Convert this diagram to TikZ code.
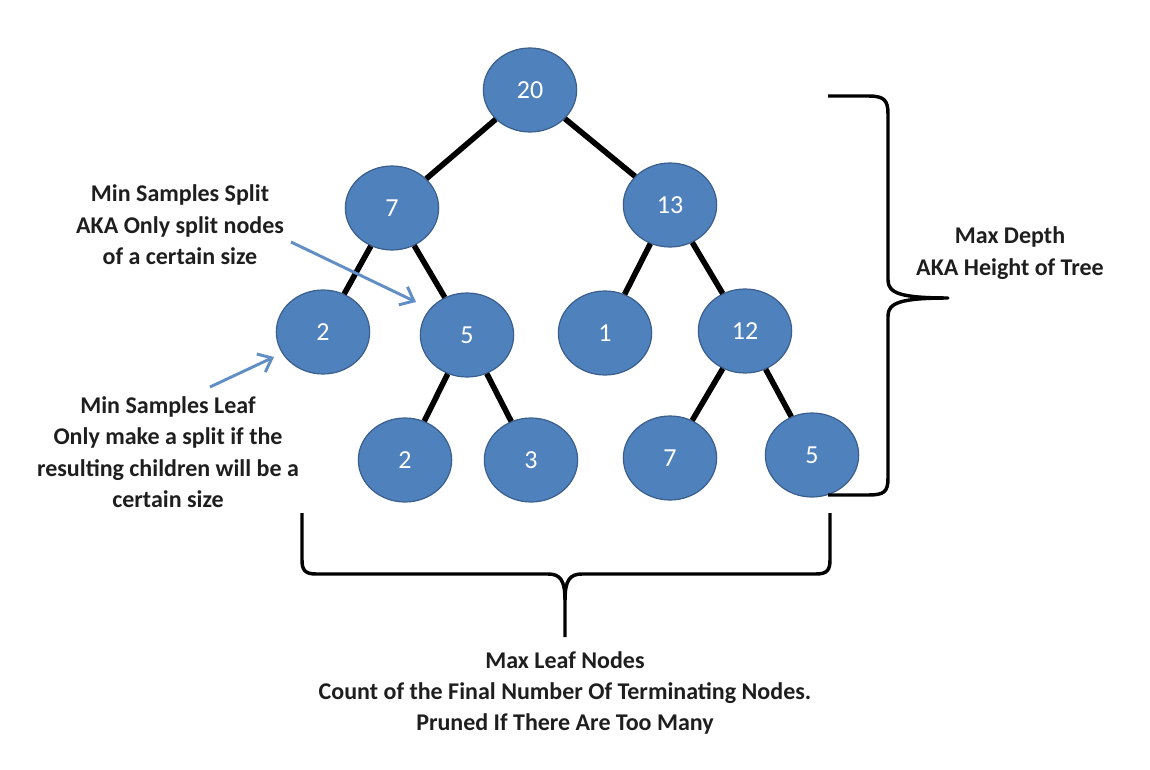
\documentclass[tikz,border=0pt]{standalone}
\usepackage{fontspec}
\setmainfont{Carlito}
\usetikzlibrary{arrows.meta, shapes.geometric}

\definecolor{nodeblue}{HTML}{4F81BD}
\definecolor{nodeedge}{HTML}{3A5F8C}
\definecolor{notetext}{HTML}{1E1E1E}

\tikzset{
  tnode/.style={ellipse, draw=nodeedge, line width=0.9pt, fill=nodeblue, text=white,
    minimum width=70pt, minimum height=63pt, inner sep=0pt, font=\fontsize{19.5}{22}\selectfont},
  branch/.style={line width=4.2pt, black},
  note/.style={align=center, text=notetext, font=\bfseries\fontsize{18}{23.5}\selectfont},
  notearrow/.style={line width=2.2pt, nodeblue!90!white, -{Straight Barb[length=9pt, width=15pt, line width=2.2pt]}},
  brace/.style={line width=2.6pt, black, line join=round}
}

\begin{document}
\begin{tikzpicture}[x=0.75pt, y=-0.75pt]

\useasboundingbox (0,0) rectangle (1150,770);

% tree
\node[tnode] (n20) at (530, 90) {20};
\node[tnode] (n7) at (392, 208) {7};
\node[tnode] (n13) at (670, 205) {13};
\node[tnode] (n2) at (323, 332) {2};
\node[tnode] (n5) at (467, 335) {5};
\node[tnode] (n1) at (605, 333) {1};
\node[tnode] (n12) at (745, 331) {12};
\node[tnode] (leafa) at (405, 460) {2};
\node[tnode] (leafb) at (531, 460) {3};
\node[tnode] (leafc) at (670, 458) {7};
\node[tnode] (leafd) at (812, 455) {5};

\draw[branch] (n20) -- (n7);
\draw[branch] (n20) -- (n13);
\draw[branch] (n7) -- (n2);
\draw[branch] (n7) -- (n5);
\draw[branch] (n13) -- (n1);
\draw[branch] (n13) -- (n12);
\draw[branch] (n5) -- (leafa);
\draw[branch] (n5) -- (leafb);
\draw[branch] (n12) -- (leafc);
\draw[branch] (n12) -- (leafd);

% notes on the left
\node[note] (splitnote) at (180, 225) {Min Samples Split\\AKA Only split nodes\\of a certain size};
\node[note] (leafnote) at (168, 452) {Min Samples Leaf\\Only make a split if the\\resulting children will be a\\certain size};

\coordinate (splittail) at (291, 242);
\coordinate (splittip) at (416, 302);
\coordinate (leaftail) at (210, 387);
\coordinate (leaftip) at (274, 357);
\draw[notearrow] (splittail) -- (splittip);
\draw[notearrow] (leaftail) -- (leaftip);

% depth brace
\draw[brace] (828, 96) -- (868, 96) .. controls (884, 96) and (888, 100) .. (888, 114)
  -- (888, 280) .. controls (888, 293) and (900, 298) .. (948, 298)
  .. controls (900, 298) and (888, 303) .. (888, 316)
  -- (888, 478) .. controls (888, 492) and (884, 495) .. (868, 495) -- (828, 495);
\node[note] (depthnote) at (1010, 253) {Max Depth\\AKA Height of Tree};

% leaf brace
\draw[brace] (302, 513) -- (302, 560) .. controls (302, 570) and (305, 574) .. (316, 574)
  -- (548, 574) .. controls (560, 574) and (565, 580) .. (565, 600) -- (565, 637);
\draw[brace] (830, 513) -- (830, 560) .. controls (830, 570) and (827, 574) .. (816, 574)
  -- (582, 574) .. controls (570, 574) and (565, 580) .. (565, 600);
\node[note] (leafcount) at (565, 693) {Max Leaf Nodes\\Count of the Final Number Of Terminating Nodes.\\Pruned If There Are Too Many};

\end{tikzpicture}
\end{document}
